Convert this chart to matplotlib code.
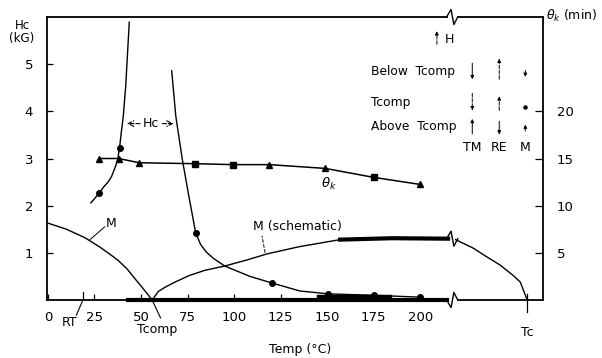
import numpy as np
import matplotlib.pyplot as plt

# --- data (temperature in deg C, Hc in kG, theta in min) ---
x_ticks = [0, 25, 50, 75, 100, 125, 150, 175, 200]
hc_ticks = [1, 2, 3, 4, 5]
theta_ticks = [5, 10, 15, 20]

# Hc below Tcomp
T_hc_lo = [23.1, 25.5, 27.6, 30, 32.3, 34.2, 36, 37.5, 38.5, 39.4, 40.5, 41.8, 42.8, 43.7]
Hc_lo = [2.06, 2.17, 2.27, 2.4, 2.5, 2.62, 2.8, 2.98, 3.23, 3.55, 3.9, 4.54, 5.25, 5.89]
T_hc_lo_pts = [27.6, 38.5]
Hc_lo_pts = [2.27, 3.23]

# Hc above Tcomp
T_hc_hi = [66.5, 68.7, 72.2, 75.4, 79.4, 82, 85, 89, 95, 108.6, 120.4, 135.5, 144.6, 150.5, 175, 200]
Hc_hi = [4.86, 3.9, 2.98, 2.27, 1.42, 1.18, 1.02, 0.88, 0.72, 0.5, 0.36, 0.19, 0.155, 0.13, 0.10, 0.06]
T_hc_hi_pts = [79.4, 120.4, 150.5, 175, 200]
Hc_hi_pts = [1.42, 0.36, 0.13, 0.10, 0.06]

# magnetisation M (arbitrary units on the Hc scale)
T_M = [0, 10, 19.9, 28, 34, 38, 42.5, 46.8, 51, 56]
M_lo = [1.63, 1.50, 1.32, 1.12, 0.95, 0.83, 0.66, 0.45, 0.25, 0]
T_Ms = [56, 59.3, 62.9, 68.3, 76, 84.4, 95, 107, 118, 135, 157, 185, 215]
M_s = [0, 0.18, 0.27, 0.38, 0.52, 0.63, 0.72, 0.85, 0.98, 1.13, 1.28, 1.32, 1.30]
T_Ms2 = [219, 228.5, 236, 243, 250, 253.8, 257.5]
M_s2 = [1.28, 1.10, 0.91, 0.74, 0.52, 0.38, 0]

# theta_k
T_th = [27.4, 38, 49, 79, 99.6, 119, 149, 175, 200]
theta = [15.0, 15.0, 14.55, 14.45, 14.35, 14.35, 13.95, 13.0, 12.25]
th_mark = ['^', '^', '^', 's', 's', '^', '^', 's', '^']

T_break = 217.2
T_comp = 56
T_RT = 18.8
T_c = 257.5

plt.rcParams['font.family'] = 'DejaVu Sans'
fig = plt.figure(figsize=(6.02, 3.58), dpi=100)
ax = fig.add_axes([47/602, 1-300/358, 496/602, 283/358])
ax.set_xlim(-0.5, 266)
ax.set_ylim(0, 6)
ax2 = ax.twinx()
ax2.set_ylim(0, 30)

for a in (ax, ax2):
    for s in ('top', 'bottom'):
        a.spines[s].set_visible(False)
ax2.spines['left'].set_visible(False)
ax.spines['right'].set_visible(False)
ax.spines['left'].set_linewidth(1.3)
ax2.spines['right'].set_linewidth(1.3)

ax.set_xticks(x_ticks)
ax.set_yticks(hc_ticks)
ax2.set_yticks(theta_ticks)
ax.tick_params(axis='both', direction='in', length=4, width=0.9, labelsize=9.5)
ax.tick_params(axis='x', pad=8)
ax.tick_params(axis='y', pad=10)
ax2.tick_params(axis='y', direction='in', length=6, width=0.9, labelsize=9.5, pad=10)

k = dict(color='black', lw=1.0)
# Hc curves
ax.plot(T_hc_lo, Hc_lo, **k)
ax.plot(T_hc_lo_pts, Hc_lo_pts, 'o', color='black', ms=4)
ax.plot(T_hc_hi, Hc_hi, **k)
ax.plot(T_hc_hi_pts, Hc_hi_pts, 'o', color='black', ms=4)
ax.plot([145, 184], [0.09, 0.09], color='black', lw=2.5)

# M curves
ax.plot(T_M, M_lo, **k)
ax.plot(T_Ms, M_s, **k)
ax.plot([157, 185, 215], [1.28, 1.31, 1.30], color='black', lw=3)
ax.plot(T_Ms2, M_s2, **k)

# theta_k on right scale
ax2.plot(T_th, theta, color='black', lw=1.1)
for t, th, m in zip(T_th, theta, th_mark):
    ax2.plot(t, th, m, color='black', ms=4)

# spines drawn by hand with breaks
def zig(y, up):
    d = 0.16 if up else -0.16
    xs = [T_break - 3, T_break - 0.6, T_break + 0.9, T_break + 3]
    ys = [y, y + d, y - d, y]
    ax.plot(xs, ys, color='black', lw=1.0, clip_on=False)

ax.plot([-0.5, T_break - 3], [6, 6], color='black', lw=1.3, clip_on=False)
ax.plot([T_break + 3, 266], [6, 6], color='black', lw=1.3, clip_on=False)
zig(6, True)
ax.plot([-0.5, 43], [0, 0], color='black', lw=1.3, clip_on=False)
ax.plot([43, T_break - 3], [0, 0], color='black', lw=3, clip_on=False)
ax.plot([T_break + 3, 266], [0, 0], color='black', lw=1.3, clip_on=False)
zig(0, False)
zig(1.3, True)

# labels on curves
ax.annotate('', xy=(41, 3.74), xytext=(51, 3.74),
            arrowprops=dict(arrowstyle='->', ls='--', lw=0.8))
ax.annotate('', xy=(69, 3.74), xytext=(60, 3.74),
            arrowprops=dict(arrowstyle='->', ls='--', lw=0.8))
ax.text(55.5, 3.74, 'Hc', ha='center', va='center', fontsize=9)
ax.plot([22.6, 30.5], [1.28, 1.55], color='black', lw=0.7)
ax.text(31, 1.62, 'M', ha='left', va='center', fontsize=9)
ax.plot([116.7, 115], [1.0, 1.36], color='black', lw=0.7, ls='--')
ax.text(110, 1.55, 'M (schematic)', ha='left', va='center', fontsize=9)
ax.text(151, 2.47, r'$\theta_k$', ha='center', va='center', fontsize=9.5)

# RT, Tcomp, Tc markers below axis
ax.plot([T_RT, T_RT], [0, 0.17], color='black', lw=0.9)
ax.plot([T_RT, T_RT - 3.5], [0, -0.32], color='black', lw=0.8, clip_on=False)
ax.text(11.5, -0.47, 'RT', ha='center', va='center', fontsize=9)
ax.plot([T_comp, T_comp + 4.5], [0, -0.38], color='black', lw=0.8, clip_on=False)
ax.text(58.5, -0.63, 'Tcomp', ha='center', va='center', fontsize=9)
ax.plot([T_c, T_c], [0.12, -0.26], color='black', lw=0.9, clip_on=False)
ax.text(T_c, -0.68, 'Tc', ha='center', va='center', fontsize=9)

# legend block
def arr(x, y, up, dashed, h=0.17):
    s, e = (y - h, y + h) if up else (y + h, y - h)
    ax.annotate('', xy=(x, e), xytext=(x, s),
                arrowprops=dict(arrowstyle='-|>', ls='--' if dashed else '-', lw=0.7,
                                mutation_scale=5, color='black',
                                shrinkA=0, shrinkB=0))

arr(209, 5.56, True, True, 0.14)
ax.text(213, 5.53, 'H', ha='left', va='center', fontsize=9)
rows = ['Below  Tcomp', 'Tcomp', 'Above  Tcomp']
row_y = [4.85, 4.19, 3.68]
for r, y in zip(rows, row_y):
    ax.text(173.7, y, r, ha='left', va='center', fontsize=8.8)
cols = ['TM', 'RE', 'M']
col_x = [228, 242.5, 256.5]
for c, x in zip(cols, col_x):
    ax.text(x, 3.23, c, ha='center', va='center', fontsize=9)

arr(228, 4.85, False, False, 0.17)
arr(242.5, 4.9, True, True, 0.22)
arr(256.5, 4.8, False, False, 0.07)
arr(228, 4.2, False, True, 0.18)
arr(242.5, 4.17, True, True, 0.15)
ax.plot(256.5, 4.1, 'o', color='black', ms=2.2)
arr(228, 3.68, True, False, 0.16)
arr(242.5, 3.65, False, False, 0.14)
arr(256.5, 3.65, True, False, 0.07)

fig.text(22/602, 1-32/358, 'Hc\n(kG)', ha='center', va='center', fontsize=8.5, linespacing=1.0)
fig.text(572/602, 1-16/358, r'$\theta_k$ (min)', ha='center', va='center', fontsize=9)
fig.text(300/602, 1-350/358, 'Temp (°C)', ha='center', va='center', fontsize=9)

fig.savefig('out.png', dpi=100)
